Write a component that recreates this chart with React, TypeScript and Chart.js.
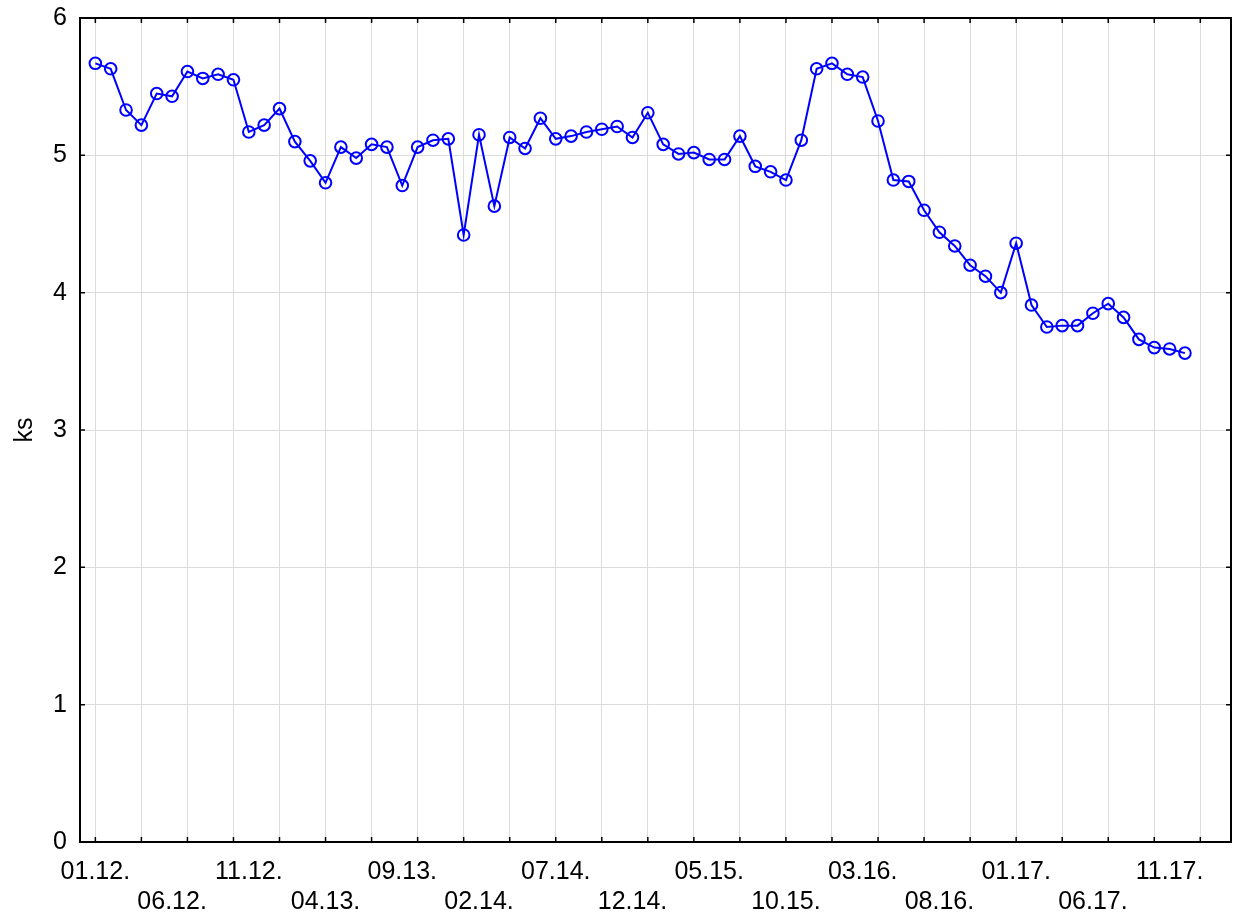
import React, { useEffect, useRef } from "react";
import { Chart, registerables } from "chart.js";

Chart.register(...registerables);

const categories: string[] = [
  "01.12.", "02.12.", "03.12.", "04.12.", "05.12.", "06.12.", "07.12.", "08.12.", "09.12.", "10.12.", "11.12.", "12.12.",
  "01.13.", "02.13.", "03.13.", "04.13.", "05.13.", "06.13.", "07.13.", "08.13.", "09.13.", "10.13.", "11.13.", "12.13.",
  "01.14.", "02.14.", "03.14.", "04.14.", "05.14.", "06.14.", "07.14.", "08.14.", "09.14.", "10.14.", "11.14.", "12.14.",
  "01.15.", "02.15.", "03.15.", "04.15.", "05.15.", "06.15.", "07.15.", "08.15.", "09.15.", "10.15.", "11.15.", "12.15.",
  "01.16.", "02.16.", "03.16.", "04.16.", "05.16.", "06.16.", "07.16.", "08.16.", "09.16.", "10.16.", "11.16.", "12.16.",
  "01.17.", "02.17.", "03.17.", "04.17.", "05.17.", "06.17.", "07.17.", "08.17.", "09.17.", "10.17.", "11.17.", "12.17.",
];

const values: number[] = [
  5.67, 5.63, 5.33, 5.22, 5.45, 5.43, 5.61, 5.56, 5.59, 5.55, 5.17, 5.22,
  5.34, 5.10, 4.96, 4.80, 5.06, 4.98, 5.08, 5.06, 4.78, 5.06, 5.11, 5.12,
  4.42, 5.15, 4.63, 5.13, 5.05, 5.27, 5.12, 5.14, 5.17, 5.19, 5.21, 5.13,
  5.31, 5.08, 5.01, 5.02, 4.97, 4.97, 5.14, 4.92, 4.88, 4.82, 5.11, 5.63,
  5.67, 5.59, 5.57, 5.25, 4.82, 4.81, 4.60, 4.44, 4.34, 4.20, 4.12, 4.00,
  4.36, 3.91, 3.75, 3.76, 3.76, 3.85, 3.92, 3.82, 3.66, 3.60, 3.59, 3.56,
];

const yTicks: number[] = [0, 1, 2, 3, 4, 5, 6];
const labelEvery = 5;
const gridEvery = 3;
const yTitle = "ks";

const FONT = "'Liberation Sans', Arial, sans-serif";

const framePlugin = {
  id: "frame",
  afterDatasetsDraw(chart: any) {
    const { ctx, chartArea } = chart;
    const { left, right, top, bottom } = chartArea;
    const xs = chart.scales.x;
    const ys = chart.scales.y;
    ctx.save();
    ctx.strokeStyle = "#000";
    ctx.lineWidth = 1.5;
    ctx.beginPath();
    xs.ticks.forEach((t: any) => {
      if (t.value >= 0 && t.value % gridEvery === 0) {
        const px = xs.getPixelForValue(t.value);
        ctx.moveTo(px, bottom);
        ctx.lineTo(px, bottom - 5);
        ctx.moveTo(px, top);
        ctx.lineTo(px, top + 5);
      }
    });
    ys.ticks.forEach((t: any) => {
      const py = ys.getPixelForValue(t.value);
      ctx.moveTo(left, py);
      ctx.lineTo(left + 5, py);
      ctx.moveTo(right, py);
      ctx.lineTo(right - 5, py);
    });
    ctx.stroke();
    ctx.lineWidth = 2;
    ctx.strokeRect(left, top, right - left, bottom - top);
    ctx.restore();
  },
};

const zeroPad = (s: any) => {
  s.paddingTop = 0;
  s.paddingBottom = 0;
  s.paddingLeft = 0;
  s.paddingRight = 0;
};

export default function App() {
  const ref = useRef<HTMLCanvasElement | null>(null);

  useEffect(() => {
    if (!ref.current) return;
    const chart = new Chart(ref.current, {
      type: "line",
      data: {
        datasets: [
          {
            data: values.map((v, i) => ({ x: i, y: v })),
            borderColor: "#0000ff",
            borderWidth: 2,
            pointRadius: 5.8,
            pointHoverRadius: 5.8,
            pointBorderWidth: 2,
            pointBorderColor: "#0000ff",
            pointBackgroundColor: "rgba(0,0,0,0)",
            tension: 0,
            fill: false,
            clip: false,
          },
        ],
      },
      options: {
        animation: false,
        responsive: true,
        maintainAspectRatio: false,
        layout: { autoPadding: false, padding: { top: 18, right: 2, left: 0, bottom: 0 } },
        plugins: {
          legend: { display: false },
          tooltip: { enabled: false },
        },
        scales: {
          x: {
            type: "linear",
            min: -1,
            max: 74,
            afterFit: (s: any) => {
              s.height = 72;
              zeroPad(s);
            },
            grid: {
              drawTicks: false,
              color: (c: any) =>
                c.tick && c.tick.value >= 0 && c.tick.value % gridEvery === 0 ? "#dcdcdc" : "rgba(0,0,0,0)",
              lineWidth: 1,
            },
            border: { display: false },
            ticks: {
              stepSize: 1,
              autoSkip: false,
              maxRotation: 0,
              minRotation: 0,
              padding: 15,
              color: "#000",
              font: { family: FONT, size: 25, lineHeight: 1.2 },
              callback: (value: any) => {
                const v = Number(value);
                if (v < 0 || v >= categories.length || v % labelEvery !== 0) return "";
                const k = v / labelEvery;
                return k % 2 === 0 ? categories[v] : ["", categories[v]];
              },
            },
          },
          y: {
            min: 0,
            max: 6,
            afterFit: (s: any) => {
              s.width = 80;
              zeroPad(s);
            },
            afterBuildTicks: (s: any) => {
              s.ticks = yTicks.map((v) => ({ value: v }));
            },
            grid: { drawTicks: false, color: "#dcdcdc", lineWidth: 1 },
            border: { display: false },
            ticks: {
              padding: 13,
              color: "#000",
              font: { family: FONT, size: 25 },
            },
            title: {
              display: true,
              text: yTitle,
              color: "#000",
              font: { family: FONT, size: 25 },
              padding: { top: 10, bottom: 0 },
            },
          },
        },
      },
      plugins: [framePlugin],
    } as any);
    return () => chart.destroy();
  }, []);

  return (
    <div style={{ position: "fixed", left: 0, top: 0, width: 1233, height: 914, background: "#fff" }}>
      <canvas ref={ref} />
    </div>
  );
}
